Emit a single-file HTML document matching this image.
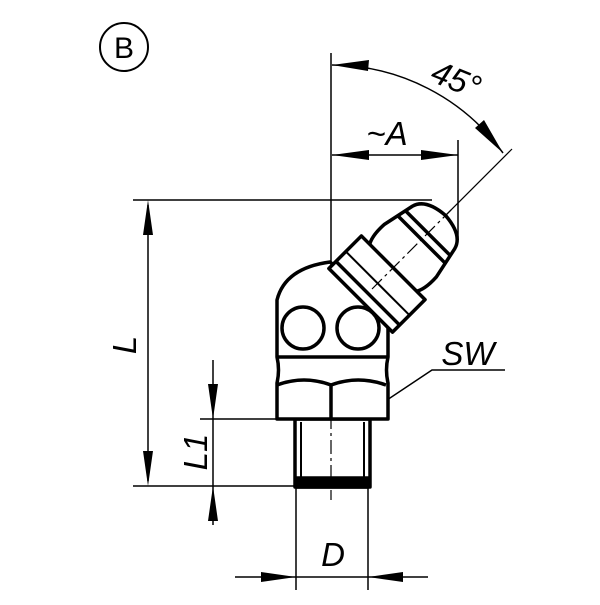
<!DOCTYPE html>
<html><head><style>html,body{margin:0;padding:0;background:#fff}</style></head>
<body>
<svg width="600" height="600" viewBox="0 0 600 600" xmlns="http://www.w3.org/2000/svg" font-family="Liberation Sans, sans-serif">
<g stroke="#000" fill="none">
<circle cx="124" cy="47" r="24" stroke-width="2"/>
<line x1="331" y1="53" x2="331" y2="265" stroke-width="1.5"/>
<line x1="331" y1="265" x2="331" y2="500" stroke-width="1.2" stroke-dasharray="14,4,3,4"/>
<line x1="133" y1="200" x2="432" y2="200" stroke-width="1.5"/>
<line x1="133" y1="486" x2="298" y2="486" stroke-width="1.5"/>
<line x1="200" y1="419" x2="277" y2="419" stroke-width="1.5"/>
<line x1="148" y1="205" x2="148" y2="481" stroke-width="1.5"/>
<path d="M148,200 l-5,35 h10z M148,486 l-5,-35 h10z" fill="#000" stroke="none"/>
<line x1="213" y1="360" x2="213" y2="525" stroke-width="1.5"/>
<path d="M213,419 l-5,-35 h10z M213,486 l-5,35 h10z" fill="#000" stroke="none"/>
<line x1="296" y1="487" x2="296" y2="590" stroke-width="1.5"/>
<line x1="368" y1="487" x2="368" y2="590" stroke-width="1.5"/>
<line x1="235" y1="577" x2="428" y2="577" stroke-width="1.5"/>
<path d="M296,577 l-35,-5 v10z M368,577 l35,-5 v10z" fill="#000" stroke="none"/>
<line x1="458" y1="140" x2="458" y2="240" stroke-width="1.5"/>
<line x1="332" y1="155" x2="458" y2="155" stroke-width="1.5"/>
<path d="M332,155 l37,-5 v10z M458,155 l-37,-5 v10z" fill="#000" stroke="none"/>
<path d="M332,65 A212,212 0 0 1 503,153" stroke-width="1.5"/>
<path d="M332,65 l37,-5 l-1,11z" fill="#000" stroke="none"/>
<path d="M503,153 l-19,-33 l-9,8z" fill="#000" stroke="none"/>
<line x1="331" y1="330" x2="512" y2="149" stroke-width="1.2"/>
<polyline points="372,410 432,370 505,370" stroke-width="1.5"/>
<g stroke-width="3.5" stroke-linejoin="round">
<rect x="295" y="419" width="75" height="68"/>
<line x1="301" y1="422" x2="301" y2="480" stroke-width="2"/>
<line x1="364" y1="422" x2="364" y2="480" stroke-width="2"/>
<rect x="297" y="478" width="71" height="9" fill="#000"/>
<path d="M277,419 V383 Q280,370 277,357 V300 Q285,268 330,262 L388,310 V357 Q385,370 388,383 V419 Z" fill="#fff"/>
<line x1="277" y1="357" x2="388" y2="357"/>
<path d="M277,385 Q304,375 331,385 Q358,375 386,385"/>
<line x1="331" y1="385" x2="331" y2="419"/>
<circle cx="303" cy="328" r="21"/>
<circle cx="358" cy="328" r="21" fill="#fff"/>
<g transform="translate(331,330) rotate(-45)">
<path d="M86,-32 Q94,-38 112,-37 L145,-30 Q160,-26 162,0 Q160,26 145,30 L112,37 Q94,38 86,32 Z" fill="#fff"/>
<path d="M42,-45 H88 V45 H42 Z" fill="#fff"/>
<line x1="52" y1="-45" x2="52" y2="45"/>
<line x1="66" y1="-45" x2="66" y2="45" stroke-width="2"/>
<line x1="128" y1="-33" x2="128" y2="33"/>
<line x1="137" y1="-32" x2="137" y2="32"/>
<line x1="58" y1="0" x2="170" y2="0" stroke-width="1.2" stroke-dasharray="14,4,3,4"/>
</g>
</g>
</g>
<g fill="#000" font-style="italic" font-size="33">
<text x="124" y="58" font-size="30" font-style="normal" text-anchor="middle">B</text>
<text x="0" y="0" transform="translate(452,90) rotate(22)" text-anchor="middle">45°</text>
<text x="387" y="145" text-anchor="middle">~A</text>
<text x="468" y="365" text-anchor="middle">SW</text>
<text x="0" y="0" transform="translate(136,345) rotate(-90)" text-anchor="middle">L</text>
<text x="0" y="0" transform="translate(207,452) rotate(-90)" text-anchor="middle">L1</text>
<text x="333" y="566" text-anchor="middle">D</text>
</g>
</svg>
</body></html>
